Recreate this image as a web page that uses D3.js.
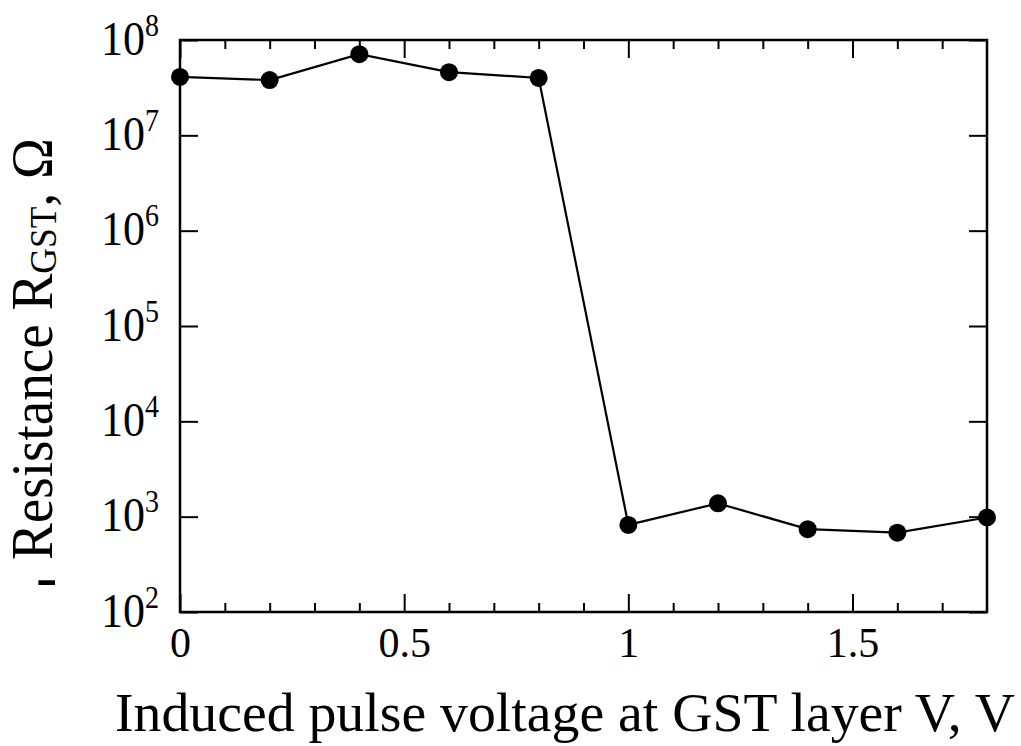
<!DOCTYPE html>
<html><head><meta charset="utf-8">
<script src="https://cdn.jsdelivr.net/npm/d3@7"></script>
<style>
html,body{margin:0;padding:0;background:#fff;}
svg{display:block;}
text{font-family:"Liberation Serif","Times New Roman",serif;fill:#000;}
</style></head>
<body>
<svg id="chart" width="1021" height="746"></svg>
<script>
// ---- data ----
const voltages = [0, 0.2, 0.4, 0.6, 0.8, 1.0, 1.2, 1.4, 1.6, 1.8];
const resistances = [4.1e7, 3.8e7, 7.1e7, 4.6e7, 4.0e7, 8.2e2, 1.38e3, 7.4e2, 6.8e2, 9.8e2];
const xMajorTicks = [0, 0.5, 1, 1.5];
const xMinorTicks = [0.1, 0.2, 0.3, 0.4, 0.6, 0.7, 0.8, 0.9, 1.1, 1.2, 1.3, 1.4, 1.6, 1.7];
const xTickLabels = ["0", "0.5", "1", "1.5"];
const yTicks = [1e2, 1e3, 1e4, 1e5, 1e6, 1e7, 1e8];
const yTickExponents = ["2", "3", "4", "5", "6", "7", "8"];
const xTitle = "Induced pulse voltage at GST layer V, V";
const yTitleMain = "Resistance R";
const yTitleSub = "GST";
const yTitleEnd = ", Ω";

// ---- layout ----
const L = 180, R = 987, T = 40, B = 612;
const svg = d3.select("#chart");
const x = d3.scaleLinear().domain([0, 1.8]).range([L, R]);
const y = d3.scaleLog().domain([1e2, 1e8]).range([B, T]);

const g = svg.append("g");

function styleAxis(sel) {
  sel.selectAll("path.domain").remove();
  sel.selectAll("line").attr("stroke", "#000").attr("stroke-width", 2);
}

// bottom minor / major
g.append("g").attr("transform", `translate(0,${B})`)
  .call(d3.axisBottom(x).tickValues(xMinorTicks).tickSize(-9).tickFormat(""))
  .call(styleAxis);
const bMaj = g.append("g").attr("transform", `translate(0,${B})`)
  .call(d3.axisBottom(x).tickValues(xMajorTicks).tickSize(-18).tickPadding(8)
    .tickFormat((d, i) => xTickLabels[i]))
  .call(styleAxis);
bMaj.selectAll("text").attr("font-size", 42).attr("dy", "0.78em")
  .attr("y", 12).attr("font-family", "Liberation Serif");

// top
g.append("g").attr("transform", `translate(0,${T})`)
  .call(d3.axisTop(x).tickValues(xMinorTicks).tickSize(-9).tickFormat(""))
  .call(styleAxis);
g.append("g").attr("transform", `translate(0,${T})`)
  .call(d3.axisTop(x).tickValues(xMajorTicks).tickSize(-18).tickFormat(""))
  .call(styleAxis);

// left
const lAx = g.append("g").attr("transform", `translate(${L},0)`)
  .call(d3.axisLeft(y).tickValues(yTicks).tickSize(-18).tickFormat(""))
  .call(styleAxis);
lAx.selectAll(".tick").each(function (d, i) {
  d3.select(this).append("text")
    .attr("transform", "translate(-35,14) scale(1,1.1)")
    .attr("text-anchor", "end")
    .attr("font-size", 44)
    .text("10");
  d3.select(this).append("text")
    .attr("transform", "translate(-35,-5) scale(1,1.1)")
    .attr("text-anchor", "start")
    .attr("font-size", 28)
    .text(yTickExponents[i]);
});

// right
g.append("g").attr("transform", `translate(${R},0)`)
  .call(d3.axisRight(y).tickValues(yTicks).tickSize(-18).tickFormat(""))
  .call(styleAxis);

// frame
g.append("rect").attr("x", L).attr("y", T).attr("width", R - L).attr("height", B - T)
  .attr("fill", "none").attr("stroke", "#000").attr("stroke-width", 2.5);

// line + markers
const line = d3.line().x((d, i) => x(voltages[i])).y(d => y(d));
g.append("path").datum(resistances).attr("d", line)
  .attr("fill", "none").attr("stroke", "#000").attr("stroke-width", 2.2);
g.selectAll("circle.pt").data(resistances).enter().append("circle")
  .attr("class", "pt")
  .attr("cx", (d, i) => x(voltages[i])).attr("cy", d => y(d))
  .attr("r", 9).attr("fill", "#000");

// x title
svg.append("text").attr("x", 565).attr("y", 731)
  .attr("text-anchor", "middle").attr("font-size", 55)
  .attr("textLength", 900).attr("lengthAdjust", "spacingAndGlyphs")
  .text(xTitle);

// y title (scaled along its length to fit the reference extent)
const ytG = svg.append("g");
const yt = ytG.append("text")
  .attr("text-anchor", "start").attr("font-size", 59);
yt.append("tspan").text(yTitleMain);
yt.append("tspan").attr("font-size", 38).attr("dy", 4).text(yTitleSub);
yt.append("tspan").attr("dy", -4).text(yTitleEnd);
const natural = yt.node().getComputedTextLength();
const targetLen = 422;
ytG.attr("transform", `translate(52,560) rotate(-90) scale(${targetLen / natural},1)`);

// small dash fragment below the y title
svg.append("text").attr("x", 36).attr("y", 598)
  .attr("font-size", 64).text("-");
</script>
</body></html>
